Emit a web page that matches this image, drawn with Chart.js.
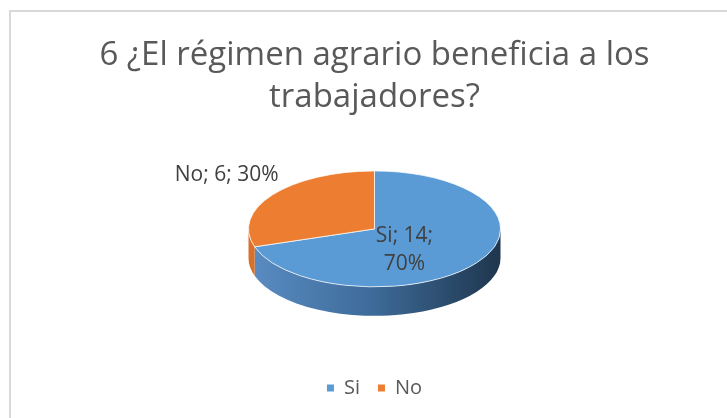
<!DOCTYPE html>
<html>
<head>
<meta charset="utf-8">
<script src="https://cdn.jsdelivr.net/npm/chart.js@4.4.1/dist/chart.umd.min.js"></script>
<style>
  html, body { margin: 0; padding: 0; background: #fff; overflow: hidden; }
  #marco {
    position: absolute; left: 9px; top: 10px;
    width: 727px; height: 420px;
    border: 2px solid #d9d9d9; background: #fff;
  }
  canvas { display: block; }
</style>
</head>
<body>
<div id="marco"><canvas id="grafico" width="727" height="420"></canvas></div>
<script>
// datos de la pregunta 6
var categorias = ['Si', 'No'];
var respuestas = [14, 6];
var titulo = ['6 ¿El régimen agrario beneficia a los', 'trabajadores?'];

var coloresTapa = ['#5b9bd5', '#ed7d31'];
var coloresLado = [
  ['#5a8dc4', '#3d6a98', '#1f364d'],
  ['#d9712b', '#b55d22', '#7a3d15']
];

var fuente = "'Open Sans', 'Liberation Sans', sans-serif";

// pie 3D: pared lateral + tapa achatada + etiquetas
var pie3d = {
  id: 'pie3d',
  beforeDatasetsDraw: function (chart, args, opts) {
    var arcs = chart.getDatasetMeta(0).data;
    if (!arcs.length) return;
    var ctx = chart.ctx;
    var x = arcs[0].x, y = arcs[0].y, r = arcs[0].outerRadius;
    var k = opts.inclinacion, prof = opts.profundidad;
    var cy = y - prof / 2;

    arcs.forEach(function (arc, i) {
      for (var n = -1; n <= 1; n++) {
        var a0 = Math.max(arc.startAngle, n * 2 * Math.PI);
        var a1 = Math.min(arc.endAngle, n * 2 * Math.PI + Math.PI);
        if (a1 <= a0) continue;
        var g = ctx.createLinearGradient(x - r, 0, x + r, 0);
        var c = coloresLado[i];
        g.addColorStop(0, c[0]);
        g.addColorStop(0.5, c[1]);
        g.addColorStop(1, c[2]);
        ctx.save();
        ctx.beginPath();
        ctx.ellipse(x, cy, r, r * k, 0, a0, a1, false);
        ctx.lineTo(x + r * Math.cos(a1), cy + prof + r * k * Math.sin(a1));
        ctx.ellipse(x, cy + prof, r, r * k, 0, a1, a0, true);
        ctx.closePath();
        ctx.fillStyle = g;
        ctx.fill();
        ctx.restore();
      }
    });

    ctx.save();
    ctx.translate(x, cy);
    ctx.scale(1, k);
    ctx.translate(-x, -y);
  },
  afterDatasetsDraw: function (chart, args, opts) {
    var arcs = chart.getDatasetMeta(0).data;
    if (!arcs.length) return;
    var ctx = chart.ctx;
    ctx.restore();

    var x = arcs[0].x, y = arcs[0].y, r = arcs[0].outerRadius;
    var k = opts.inclinacion, cy = y - opts.profundidad / 2;
    var total = respuestas.reduce(function (a, b) { return a + b; }, 0);

    ctx.save();
    ctx.font = '21px ' + fuente;
    ctx.fillStyle = '#404040';
    ctx.textBaseline = 'middle';
    arcs.forEach(function (arc, i) {
      var pct = Math.round(respuestas[i] / total * 100) + '%';
      var mid = (arc.startAngle + arc.endAngle) / 2;
      if (i === 0) {
        // etiqueta dentro del sector
        var lx = x + 0.294 * r * Math.cos(mid);
        var ly = cy + 0.6 * r * k * Math.sin(mid) + 1;
        ctx.textAlign = 'center';
        ctx.fillText(categorias[i] + '; ' + respuestas[i] + ';', lx, ly - 14);
        ctx.fillText(pct, lx, ly + 14);
      } else {
        // etiqueta fuera del sector
        var ex = x + r * Math.cos(mid);
        var ey = cy + r * k * Math.sin(mid);
        ctx.textAlign = 'right';
        ctx.fillText(categorias[i] + '; ' + respuestas[i] + '; ' + pct, ex + 6, ey - 20);
      }
    });
    ctx.restore();
  }
};

var ctx = document.getElementById('grafico').getContext('2d');

new Chart(ctx, {
  type: 'pie',
  data: {
    labels: categorias,
    datasets: [{
      data: respuestas,
      backgroundColor: coloresTapa,
      borderColor: '#ffffff',
      borderWidth: 1,
      radius: 126,
      clip: false
    }]
  },
  plugins: [pie3d],
  options: {
    responsive: false,
    animation: false,
    layout: { padding: { top: 0, bottom: 24 } },
    plugins: {
      pie3d: { inclinacion: 0.46, profundidad: 29 },
      title: {
        display: true,
        text: titulo,
        color: '#595959',
        font: { family: fuente, size: 33, weight: 'normal', lineHeight: 1.27 },
        padding: { top: 23, bottom: 8 }
      },
      legend: {
        position: 'bottom',
        labels: {
          color: '#595959',
          font: { family: fuente, size: 20 },
          boxWidth: 7,
          boxHeight: 7,
          padding: 18,
          generateLabels: function (chart) {
            var items = Chart.controllers.pie.overrides.plugins.legend.labels.generateLabels(chart);
            items.forEach(function (it) { it.lineWidth = 0; it.strokeStyle = 'rgba(0,0,0,0)'; });
            return items;
          }
        }
      },
      tooltip: { enabled: false }
    }
  }
});
</script>
</body>
</html>
